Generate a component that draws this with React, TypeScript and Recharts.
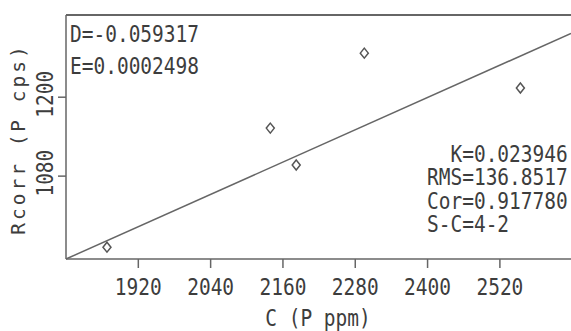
import { ComposedChart, ReferenceLine, Scatter, XAxis, YAxis } from "recharts";

// measured standards: concentration vs corrected intensity
const concentration = [1868, 2139, 2182, 2295, 2554];
const intensity = [972, 1153, 1097, 1267, 1214];

// fitted calibration line end points
const fitX = [1800, 2638];
const fitY = [954, 1297];

const xTicks = [1920, 2040, 2160, 2280, 2400, 2520];
const yTicks = [1080, 1200];
const xDomain = [1800, 2638];
const yDomain = [954, 1325];

const topStats = ["D=-0.059317", "E=0.0002498"];
const rightStats = ["  K=0.023946", "RMS=136.8517", "Cor=0.917780", "S-C=4-2"];

const points = concentration.map((c, i) => ({ c, r: intensity[i] }));

const INK = "#3d3d3d";
const AXIS = "#666";
const MONO = "'DejaVu Sans Mono', monospace";

function Diamond(props: any) {
  const { cx, cy } = props;
  if (cx == null || cy == null) return null;
  return (
    <polygon
      points={`${cx},${cy - 5} ${cx + 4},${cy} ${cx},${cy + 5} ${cx - 4},${cy}`}
      fill="#fff"
      stroke="#555"
      strokeWidth={1.5}
    />
  );
}

function TallText({ x, y, children, anchor = "start", rotate = 0 }: any) {
  return (
    <text
      transform={`translate(${x},${y}) rotate(${rotate}) scale(1,1.2)`}
      fontFamily={MONO}
      fontSize={19.5}
      fill={INK}
      textAnchor={anchor}
      style={{ whiteSpace: "pre" }}
    >
      {children}
    </text>
  );
}

function XTick(props: any) {
  const { x, payload } = props;
  return (
    <TallText x={x} y={295} anchor="middle">
      {payload.value}
    </TallText>
  );
}

function YTick(props: any) {
  const { y, payload } = props;
  return (
    <TallText x={53} y={y - 3} anchor="middle" rotate={-90}>
      {payload.value}
    </TallText>
  );
}

export default function App() {
  return (
    <div
      style={{
        position: "absolute",
        left: 0,
        top: 0,
        width: 571,
        height: 331,
        overflow: "hidden",
        background: "#fff",
      }}
    >
      <ComposedChart width={571} height={331} margin={{ top: 15, right: 0, bottom: 0, left: 0 }}>
        <XAxis
          type="number"
          dataKey="c"
          domain={xDomain}
          ticks={xTicks}
          allowDataOverflow
          stroke={AXIS}
          strokeWidth={1.5}
          tickSize={9}
          tick={<XTick />}
          height={72}
        />
        <YAxis
          type="number"
          dataKey="r"
          domain={yDomain}
          ticks={yTicks}
          allowDataOverflow
          stroke={AXIS}
          strokeWidth={1.5}
          tickSize={8}
          tick={<YTick />}
          width={66}
        />
        <ReferenceLine y={yDomain[1]} stroke={AXIS} strokeWidth={2} />
        <ReferenceLine
          segment={[
            { x: fitX[0], y: fitY[0] },
            { x: fitX[1], y: fitY[1] },
          ]}
          stroke="#666"
          strokeWidth={1.5}
        />
        <Scatter data={points} dataKey="r" shape={<Diamond />} isAnimationActive={false} />
      </ComposedChart>
      <svg width={571} height={331} style={{ position: "absolute", left: 0, top: 0, pointerEvents: "none" }}>
        {topStats.map((t, i) => (
          <TallText key={t} x={70} y={42 + i * 32}>
            {t}
          </TallText>
        ))}
        {rightStats.map((t, i) => (
          <TallText key={t} x={427} y={162 + i * 23.3}>
            {t}
          </TallText>
        ))}
        <TallText x={318} y={326} anchor="middle">
          C (P ppm)
        </TallText>
        <text
          transform="translate(25,139) rotate(-90)"
          fontFamily={MONO}
          fontSize={19.5}
          letterSpacing={3}
          fill={INK}
          textAnchor="middle"
        >
          Rcorr (P cps)
        </text>
      </svg>
    </div>
  );
}
